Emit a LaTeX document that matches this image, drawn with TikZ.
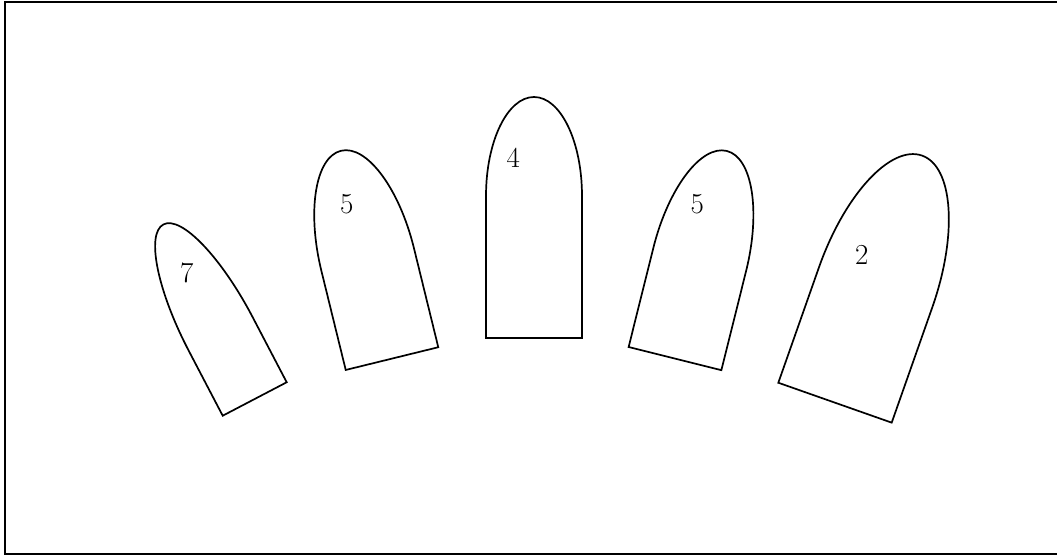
\documentclass[tikz,border=0pt]{standalone}
\usepackage{tikz}
\tikzset{
  fingerline/.style={draw=black,line width=1.7pt},
  frameline/.style={draw=black,line width=2pt},
  digit/.style={inner sep=0pt,font=\fontsize{29}{34}\selectfont},
}

\begin{document}
\begin{tikzpicture}[x=1pt,y=1pt]
\useasboundingbox (0,0) rectangle (1057,556);
\draw[frameline] (5,554.3) rectangle (1065,1.7);
% fingers: centre of base, tilt, width, straight part, tip
\foreach \x/\y/\a/\w/\h/\b in {254.7/157/27.6/72.2/73/124,
    392/197.4/13.8/95.3/102/112,
    534/218/0/96/142/99,
    675/197.4/-14/95.6/102/112,
    835/153.3/-19.4/120.2/122/140}{
  \begin{scope}[shift={(\x,\y)},rotate=\a]
    \draw[fingerline] (\w/2,0) -- (\w/2,\h)
      arc[start angle=0,end angle=180,x radius=\w/2,y radius=\b]
      -- (-\w/2,0) -- cycle;
  \end{scope}
}
\node[digit] (n7) at (186.7,282.7) {7};
\node[digit] (n5a) at (346.7,352) {5};
\node[digit] (n4) at (513.3,397.7) {4};
\node[digit] (n5b) at (697.3,352) {5};
\node[digit] (n2) at (861.7,301) {2};
\end{tikzpicture}
\end{document}
